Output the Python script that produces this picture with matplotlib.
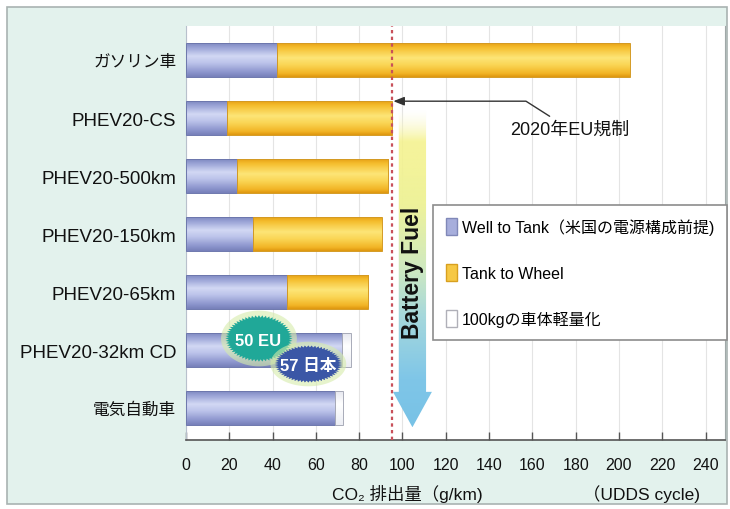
import numpy as np
import matplotlib
matplotlib.use("Agg")
import matplotlib.pyplot as plt
from matplotlib.patches import Rectangle, Patch, Polygon
from matplotlib.colors import LinearSegmentedColormap, to_rgba

plt.rcParams['font.family'] = ['Liberation Sans', 'DejaVu Sans', 'Noto Sans CJK JP']

# ---------------- data ----------------
categories = ['ガソリン車', 'PHEV20-CS', 'PHEV20-500km', 'PHEV20-150km',
              'PHEV20-65km', 'PHEV20-32km CD', '電気自動車']
well_to_tank = [42, 19, 23.5, 31, 46.5, 72, 69]
tank_to_wheel = [163, 76, 70, 59.5, 37.5, 0, 0]
lightweight_100kg = [0, 0, 0, 0, 0, 4, 3.5]
legend_labels = ['Well to Tank（米国の電源構成前提)', 'Tank to Wheel', '100kgの車体軽量化']
xticks = list(range(0, 241, 20))
eu_2020_limit = 95
badge_eu = ('50 EU', 50)
badge_jp = ('57 日本', 57)

# ---------------- figure ----------------
fig = plt.figure(figsize=(7.3, 5.1), dpi=100)
fig.patch.set_facecolor('white')
frame = Rectangle((7/730, 5/510), 720/730, 497/510, transform=fig.transFigure,
                  facecolor='#e3f2ed', edgecolor='#a9b3b1', lw=1.2, zorder=-10)
fig.add_artist(frame)

ax = fig.add_axes([186/730, 1-441/510, 539/730, 414/510])
ax.set_zorder(1)
ax.set_facecolor('white')

y = np.arange(len(categories))
h = 0.6

blue_cmap = LinearSegmentedColormap.from_list('b', [
    (0, '#7a84bc'), (0.15, '#9aa3d6'), (0.4, '#d2d8f4'), (0.6, '#bcc3ea'),
    (0.85, '#8f98cf'), (1, '#7780ba')])
yellow_cmap = LinearSegmentedColormap.from_list('y', [
    (0, '#e59d12'), (0.15, '#f5be2e'), (0.45, '#fde577'), (0.65, '#fad656'),
    (0.9, '#f2b526'), (1, '#df9810')])
white_cmap = LinearSegmentedColormap.from_list('w', [
    (0, '#e4e6ee'), (0.4, '#ffffff'), (1, '#eceef4')])
grad = np.linspace(0, 1, 64).reshape(-1, 1)

left_ttw = np.array(well_to_tank)
left_lw = left_ttw + np.array(tank_to_wheel)

series = [
    (well_to_tank, np.zeros(len(y)), blue_cmap, '#6d77ad'),
    (tank_to_wheel, left_ttw, yellow_cmap, '#d49a24'),
    (lightweight_100kg, left_lw, white_cmap, '#a8abb8'),
]
for vals, lefts, cmap, ec in series:
    bars = ax.barh(y, vals, left=lefts, height=h, facecolor='none',
                   edgecolor=ec, lw=0.7, zorder=3)
    for b, v in zip(bars, vals):
        if v <= 0:
            b.set_visible(False)
            continue
        x0, y0 = b.get_x(), b.get_y()
        im = ax.imshow(grad, cmap=cmap, aspect='auto', interpolation='bilinear',
                       extent=(x0, x0 + b.get_width(), y0 + b.get_height(), y0), zorder=2)
        im.set_clip_path(b)

# EU 2020 limit
ax.axvline(eu_2020_limit, color='#c8505a', lw=1.6, ls=(0, (1.5, 1.5)), zorder=4)

# Battery / Fuel arrow with gradient
ax_x, bw, hw = 104.6, 6.3, 9.0
ytop, yhead, ytip = 0.85, 5.72, 6.33
arrow_poly = Polygon([(ax_x - bw, ytop), (ax_x + bw, ytop), (ax_x + bw, yhead),
                      (ax_x + hw, yhead), (ax_x, ytip), (ax_x - hw, yhead),
                      (ax_x - bw, yhead)], closed=True, facecolor='none',
                     edgecolor='none')
ax.add_patch(arrow_poly)
stops = [(0.0, '#fbfadf', 0.0), (0.1, '#f5f28a', 0.85), (0.3, '#eef29a', 1.0),
         (0.5, '#cfe9c0', 1.0), (0.65, '#a6d8dc', 1.0), (0.85, '#7fc6e8', 1.0),
         (1.0, '#78c2e6', 1.0)]
t = np.linspace(0, 1, 256)
rgba = np.zeros((256, 1, 4))
for c in range(3):
    rgba[:, 0, c] = np.interp(t, [s[0] for s in stops], [to_rgba(s[1])[c] for s in stops])
rgba[:, 0, 3] = np.interp(t, [s[0] for s in stops], [s[2] for s in stops])
im = ax.imshow(rgba, aspect='auto', interpolation='bilinear',
               extent=(ax_x - hw, ax_x + hw, ytip, ytop), zorder=3)
im.set_clip_path(arrow_poly)
ax.text(ax_x, 3.66, 'Battery Fuel', rotation=90, ha='center', va='center',
        fontsize=16.5, fontweight='bold', color='#111111', zorder=6)

# annotation
ax.annotate('2020年EU規制', xy=(eu_2020_limit + 0.8, 0.71), xytext=(149.7, 1.19),
            ha='left', va='center', fontsize=13, color='#111111', zorder=6,
            arrowprops=dict(arrowstyle='-|>,head_length=0.5,head_width=0.2',
                            color='#333333', lw=1.0,
                            connectionstyle='angle,angleA=147.5,angleB=0,rad=0',
                            shrinkA=2, shrinkB=0))

# badges
def starburst(cx, cy, rx, ry, color, glow, zorder):
    n = 120
    th = np.linspace(0, 2 * np.pi, n, endpoint=False)
    r = np.where(np.arange(n) % 2 == 0, 1.0, 0.9)
    gx = cx + rx * 1.13 * np.cos(th)
    gy = cy + ry * 1.2 * np.sin(th)
    ax.add_patch(Polygon(np.c_[gx, gy], closed=True, facecolor=glow, edgecolor='none',
                         alpha=0.6, zorder=zorder))
    px = cx + rx * r * np.cos(th)
    py = cy + ry * r * np.sin(th)
    ax.add_patch(Polygon(np.c_[px, py], closed=True, facecolor=color, edgecolor='none',
                         zorder=zorder + 0.1))

starburst(33.7, 4.8, 15.5, 0.40, '#20a898', '#d6ecaa', 7)
ax.text(33.5, 4.83, badge_eu[0], ha='center', va='center', color='white',
        fontsize=12, fontweight='bold', zorder=7.5)
starburst(56.5, 5.24, 15.5, 0.32, '#3b57a6', '#d6ecaa', 8)
ax.text(56.5, 5.26, badge_jp[0], ha='center', va='center', color='white',
        fontsize=12, fontweight='bold', zorder=8.5)

# legend
handles = [Patch(facecolor='#a7aedc', edgecolor='#8088b8'),
           Patch(facecolor='#f6c844', edgecolor='#d8a020'),
           Patch(facecolor='white', edgecolor='#b0b0b8')]
leg = ax.legend(handles, legend_labels, loc='upper left', bbox_to_anchor=(0.458, 0.568),
                fontsize=11.5, frameon=True, fancybox=False, edgecolor='#8c8c8c',
                framealpha=1, borderpad=0.8, labelspacing=1.8, handlelength=0.7,
                handleheight=1.3, handletextpad=0.3, borderaxespad=0)
leg.get_frame().set_linewidth(1.2)
leg.set_zorder(9)

# axes styling
ax.set_xlim(0, 249)
ax.set_ylim(6.55, -0.586)
ax.set_yticks(y)
ax.set_yticklabels(categories)
for lab in ax.get_yticklabels():
    txt = lab.get_text()
    lab.set_fontsize(12 if not txt.startswith('PHEV') else 13.5)
ax.tick_params(axis='y', length=0, pad=7, colors='#111111')
ax.set_xticks(xticks)
ax.tick_params(axis='x', direction='in', length=6, width=1, color='#555555',
               labelsize=11.5, pad=12, labelcolor='#111111')
ax.xaxis.grid(True, color='#e4e4e4', lw=0.8)
ax.set_axisbelow(True)
ax.spines['top'].set_visible(False)
ax.spines['left'].set_color('#b8c0cc')
ax.spines['right'].set_color('#a0a8a8')
ax.spines['bottom'].set_color('#555555')
ax.spines['bottom'].set_linewidth(1.2)

fig.text(332/730, 1-494/510, 'CO₂ 排出量（g/km)', ha='left', va='center', fontsize=12.5,
         color='#111111')
fig.text(583/730, 1-494/510, '（UDDS cycle)', ha='left', va='center', fontsize=12.5,
         color='#111111')

fig.savefig('out.png', dpi=100, facecolor=fig.get_facecolor())
